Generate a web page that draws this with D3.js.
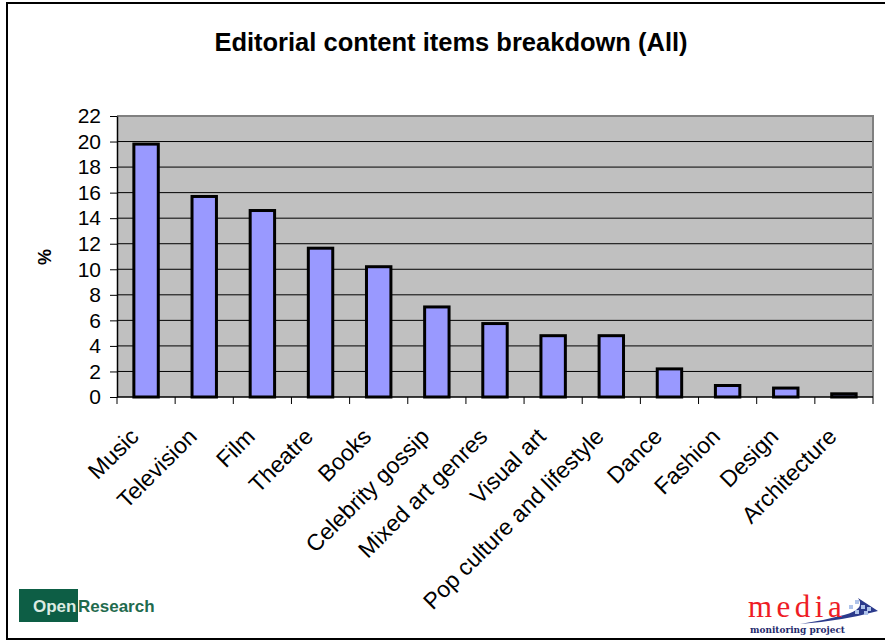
<!DOCTYPE html>
<html>
<head>
<meta charset="utf-8">
<script src="https://cdn.jsdelivr.net/npm/d3@7/dist/d3.min.js"></script>
<style>
  html, body { margin: 0; padding: 0; background: #fff; }
  svg { display: block; font-family: "Liberation Sans", Arial, sans-serif; }
</style>
</head>
<body>
<svg id="chart" width="885" height="641"></svg>
<script>
// Share of editorial content items by arts/culture category (%)
const categories = [
  "Music", "Television", "Film", "Theatre", "Books", "Celebrity gossip",
  "Mixed art genres", "Visual art", "Pop culture and lifestyle", "Dance",
  "Fashion", "Design", "Architecture"
];
const values = [19.8, 15.7, 14.6, 11.65, 10.2, 7.05, 5.75, 4.8, 4.8, 2.2, 0.9, 0.7, 0.25];
const yTicks = [0, 2, 4, 6, 8, 10, 12, 14, 16, 18, 20, 22];
const titleText = "Editorial content items breakdown (All)";
const yLabel = "%";

const SANS = "'Liberation Sans', Arial, sans-serif";
const SERIF = "'Liberation Serif', 'Times New Roman', serif";

const svg = d3.select("#chart");

// plot area
const plot = { left: 117, right: 873, top: 116, bottom: 397 };

const x = d3.scaleBand().domain(categories).range([plot.left, plot.right]).padding(0);
const y = d3.scaleLinear().domain([0, 22]).range([plot.bottom, plot.top]);

// outer frame
svg.append("path").attr("d", "M885,3 H7 V639 H885")
  .attr("stroke", "#000").attr("stroke-width", 2).attr("fill", "none");

// title
svg.append("text")
  .attr("x", 451).attr("y", 51)
  .attr("text-anchor", "middle")
  .style("font-family", SANS)
  .attr("font-size", 25.5).attr("font-weight", "bold")
  .text(titleText);

// plot background
svg.append("rect")
  .attr("x", plot.left).attr("y", plot.top)
  .attr("width", plot.right - plot.left).attr("height", plot.bottom - plot.top)
  .attr("fill", "#C0C0C0");

// gridlines
svg.append("g").selectAll("line")
  .data(yTicks.filter(d => d > 0 && d < 22))
  .join("line")
  .attr("x1", plot.left).attr("x2", plot.right)
  .attr("y1", d => y(d)).attr("y2", d => y(d))
  .attr("stroke", "#000").attr("stroke-width", 1);

// plot border (top and right)
svg.append("path")
  .attr("d", `M${plot.left},${y(22)} H${plot.right} V${plot.bottom}`)
  .attr("fill", "none").attr("stroke", "#808080").attr("stroke-width", 2);

// bars
const barW = x.bandwidth() * 0.42;
svg.append("g").selectAll("rect")
  .data(categories.map((c, i) => ({ c, v: values[i] })))
  .join("rect")
  .attr("x", d => x(d.c) + (x.bandwidth() - barW) / 2)
  .attr("width", barW)
  .attr("y", d => y(d.v))
  .attr("height", d => y(0) - y(d.v))
  .attr("fill", "#9999FF")
  .attr("stroke", "#000").attr("stroke-width", 3);

// y axis
const yAxis = svg.append("g")
  .attr("transform", `translate(${plot.left},0)`)
  .call(d3.axisLeft(y).tickValues(yTicks).tickSize(7).tickSizeOuter(0).tickPadding(9).tickFormat(d3.format("d")));
yAxis.select(".domain").attr("stroke", "#000").attr("stroke-width", 1.5);
yAxis.selectAll(".tick line").attr("stroke", "#000");
yAxis.selectAll(".tick text")
  .style("font-family", SANS)
  .attr("font-size", 21).attr("fill", "#000");

// x axis: baseline and tick marks at category boundaries
const xa = svg.append("g");
xa.append("line")
  .attr("x1", plot.left).attr("x2", plot.right)
  .attr("y1", plot.bottom).attr("y2", plot.bottom)
  .attr("stroke", "#000").attr("stroke-width", 1.5);
const bounds = categories.map(c => x(c)).concat([x.range()[1]]);
xa.selectAll("line.tk")
  .data(bounds)
  .join("line").attr("class", "tk")
  .attr("x1", d => d).attr("x2", d => d)
  .attr("y1", plot.bottom).attr("y2", plot.bottom + 7)
  .attr("stroke", "#000").attr("stroke-width", 1);

// rotated category labels
xa.selectAll("text")
  .data(categories)
  .join("text")
  .attr("transform", d => `translate(${x(d) + x.bandwidth() / 2 - 6},438) rotate(-45)`)
  .attr("text-anchor", "end")
  .style("font-family", SANS)
  .attr("font-size", 23)
  .text(d => d);

// y axis title
svg.append("text")
  .attr("transform", "translate(51,257) rotate(-90)")
  .attr("text-anchor", "middle")
  .style("font-family", SANS)
  .attr("font-size", 18).attr("font-weight", "bold")
  .text(yLabel);

// OpenResearch logo
const logoL = svg.append("g");
logoL.append("rect").attr("x", 19).attr("y", 589).attr("width", 59).attr("height", 33).attr("fill", "#0D5E45");
logoL.append("text").attr("x", 33).attr("y", 612).style("font-family", SANS)
  .attr("font-size", 17).attr("font-weight", "bold").attr("fill", "#DCEBE2").text("Open");
logoL.append("text").attr("x", 78).attr("y", 612).style("font-family", SANS)
  .attr("font-size", 17).attr("font-weight", "bold").attr("fill", "#1F6B4E").text("Research");

// media monitoring project logo
const logoR = svg.append("g");
logoR.append("path")
  .attr("d", "M800,624 Q842,621 878,611 L858,598 Q866,609 844,615 Q822,621 800,624 Z")
  .attr("fill", "#2B3A8C");
[[851, 607], [857, 612], [863, 607], [857, 602], [866, 613], [869, 609]].forEach(([cx, cy]) => {
  logoR.append("rect").attr("x", cx - 2).attr("y", cy - 2).attr("width", 4).attr("height", 4).attr("fill", "#AFC3EA");
});
logoR.append("text").attr("x", 748).attr("y", 617)
  .style("font-family", SERIF)
  .attr("font-size", 31).attr("letter-spacing", 4.5).attr("fill", "#EE1C25").text("media");
logoR.append("text").attr("x", 750).attr("y", 633)
  .style("font-family", "'DejaVu Serif', serif")
  .attr("font-size", 10).attr("font-weight", "bold")
  .attr("textLength", 95).attr("lengthAdjust", "spacingAndGlyphs")
  .attr("fill", "#1F2A6B").text("monitoring project");
</script>
</body>
</html>
